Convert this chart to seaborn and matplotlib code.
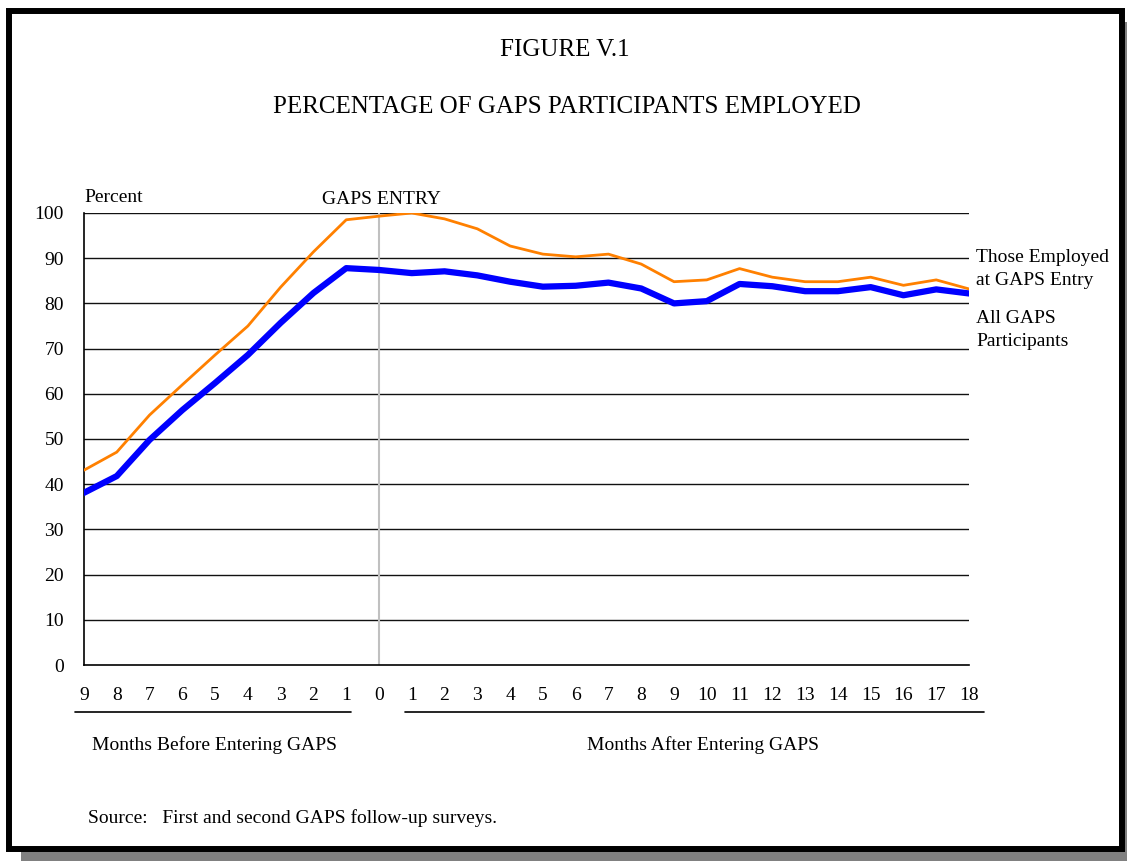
import matplotlib
matplotlib.use("Agg")
import matplotlib.pyplot as plt
import matplotlib.patches as mpatches
import matplotlib.lines as mlines
import numpy as np
import pandas as pd
import seaborn as sns

# months relative to GAPS entry (-9 .. 18)
months = list(range(-9, 19))
month_labels = [str(abs(m)) for m in months]

employed_at_entry = [43.1, 47.1, 55.3, 62.0, 68.6, 75.0, 83.6, 91.4, 98.5, 99.3,
                     100.0, 98.7, 96.5, 92.7, 90.9, 90.3, 90.9, 88.7, 84.8, 85.2,
                     87.7, 85.8, 84.8, 84.8, 85.8, 84.0, 85.2, 83.2]
all_participants = [38.1, 41.8, 49.8, 56.4, 62.4, 68.6, 75.7, 82.3, 87.8, 87.4,
                    86.7, 87.1, 86.2, 84.8, 83.7, 83.9, 84.6, 83.3, 80.0, 80.5,
                    84.3, 83.8, 82.7, 82.7, 83.6, 81.8, 83.1, 82.2]
y_ticks = list(range(0, 101, 10))

df = pd.DataFrame({"month": months,
                   "entry": employed_at_entry,
                   "all": all_participants})

sns.set_theme(style="white")
plt.rcParams['font.family'] = ['Liberation Serif', 'DejaVu Serif']
plt.rcParams['text.color'] = 'black'
plt.rcParams['xtick.color'] = 'black'
plt.rcParams['ytick.color'] = 'black'

W, H = 1127, 861
fig = plt.figure(figsize=(W / 100, H / 100), dpi=100)

def fx(px):
    return px / W

def fy(py):
    return 1 - py / H

# drop shadow and border frame
fig.patches.append(mpatches.Rectangle((fx(21), fy(861)), fx(1127) - fx(21), fy(22) - fy(861),
                                      transform=fig.transFigure, facecolor="#808080",
                                      edgecolor="none", zorder=0))
fig.patches.append(mpatches.Rectangle((fx(9), fy(849)), fx(1122) - fx(9), fy(11) - fy(849),
                                      transform=fig.transFigure, facecolor="white",
                                      edgecolor="black", linewidth=4.3, zorder=1))

ax = fig.add_axes([fx(84), fy(665), fx(969) - fx(84), fy(213) - fy(665)])
ax.set_facecolor("none")
ax.set_zorder(2)

for v in y_ticks[1:]:
    ax.axhline(v, color="#111111", linewidth=1.0, zorder=1)
ax.axvline(0, color="#c0c0c0", linewidth=1.5, zorder=1)

sns.lineplot(data=df, x="month", y="entry", color="#ff8000", linewidth=2.0, ax=ax, zorder=3)
sns.lineplot(data=df, x="month", y="all", color="#0000ff", linewidth=4.5, ax=ax, zorder=4)

ax.set_xlim(-9, 18)
ax.set_ylim(0, 100)
ax.set_xticks(months)
ax.set_xticklabels(month_labels, fontsize=14)
ax.set_yticks(y_ticks)
ax.set_yticklabels([str(v) for v in y_ticks], fontsize=14)
ax.tick_params(axis="x", length=0, pad=16)
ax.tick_params(axis="y", length=0, pad=14.5)
ax.set_xlabel("")
ax.set_ylabel("")
for side in ["top", "right"]:
    ax.spines[side].set_visible(False)
for side in ["left", "bottom"]:
    ax.spines[side].set_color("black")
    ax.spines[side].set_linewidth(1.2)

# titles and annotations
fig.text(fx(565), fy(50), "FIGURE V.1", ha="center", va="center", fontsize=18, zorder=5)
fig.text(fx(567), fy(107), "PERCENTAGE OF GAPS PARTICIPANTS EMPLOYED",
         ha="center", va="center", fontsize=18, zorder=5)
fig.text(fx(84), fy(198), "Percent", ha="left", va="center", fontsize=14, zorder=5)
fig.text(fx(381), fy(199), "GAPS ENTRY", ha="center", va="center", fontsize=14, zorder=5)
fig.text(fx(976), fy(269), "Those Employed\nat GAPS Entry", ha="left", va="center",
         fontsize=14, linespacing=1.5, zorder=5)
fig.text(fx(976), fy(330), "All GAPS\nParticipants", ha="left", va="center",
         fontsize=14, linespacing=1.5, zorder=5)

fig.add_artist(mlines.Line2D([fx(75), fx(351)], [fy(712), fy(712)], color="black",
                             linewidth=1.2, transform=fig.transFigure, zorder=5))
fig.add_artist(mlines.Line2D([fx(405), fx(984)], [fy(712), fy(712)], color="black",
                             linewidth=1.2, transform=fig.transFigure, zorder=5))
fig.text(fx(215), fy(745), "Months Before Entering GAPS", ha="center", va="center",
         fontsize=14, zorder=5)
fig.text(fx(703), fy(745), "Months After Entering GAPS", ha="center", va="center",
         fontsize=14, zorder=5)
fig.text(fx(88), fy(818), "Source:   First and second GAPS follow-up surveys.",
         ha="left", va="center", fontsize=14, zorder=5)

fig.savefig("out.png", dpi=100)
